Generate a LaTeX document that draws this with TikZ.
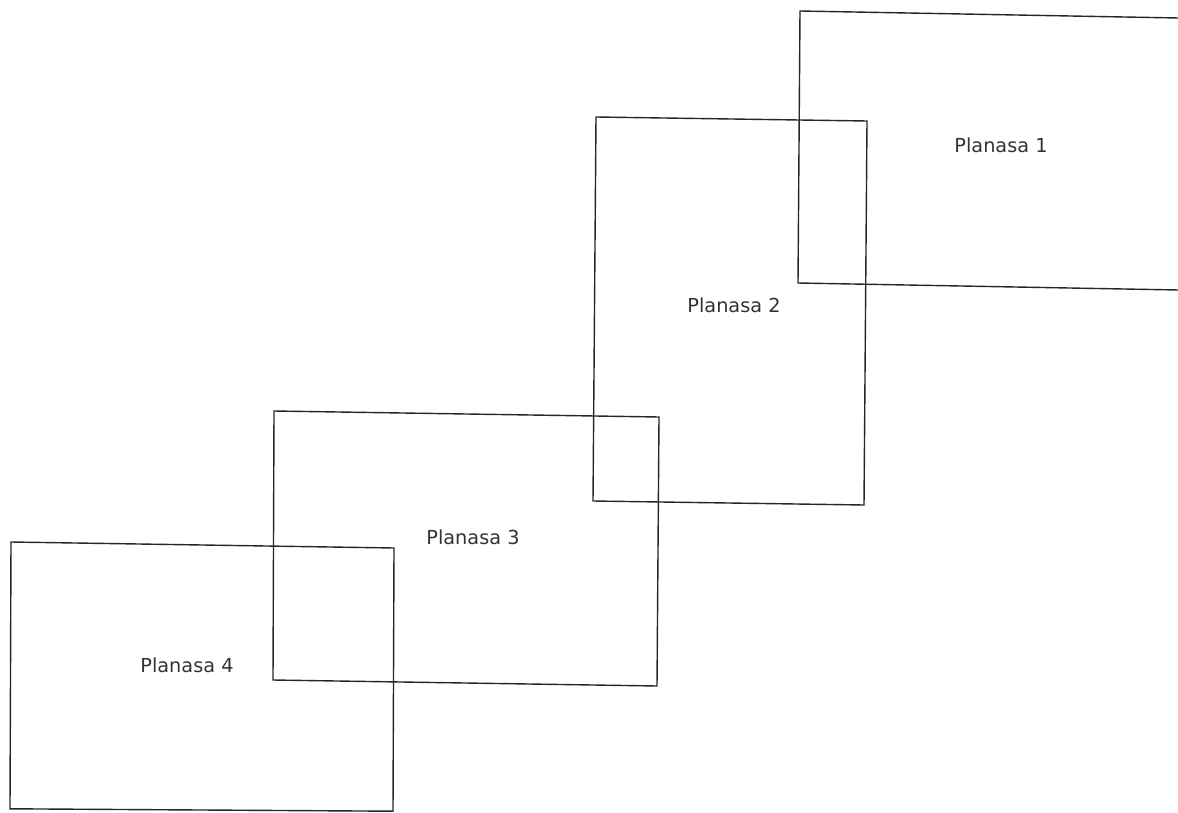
\documentclass[tikz,border=0pt]{standalone}
\usepackage{fontspec}
\setmainfont{DejaVu Sans}
\begin{document}
\begin{tikzpicture}[x=1pt,y=-1pt,
  plan/.style={draw=black!85,line width=1.4pt,line join=miter},
  lbl/.style={anchor=base,inner sep=0pt,text=black!80,font=\fontsize{19.3}{22}\selectfont}]
\useasboundingbox (0,0) rectangle (1178,813);
\clip (0,0) rectangle (1178,813);
% corners of the sheets
\coordinate (a1) at (800,11);  \coordinate (b1) at (1200,18.4);
\coordinate (c1) at (1200,290.4); \coordinate (d1) at (798,283);
\coordinate (a2) at (596,117); \coordinate (b2) at (867,121);
\coordinate (c2) at (864,505); \coordinate (d2) at (593,501);
\coordinate (a3) at (274,411); \coordinate (b3) at (659,417);
\coordinate (c3) at (657,686); \coordinate (d3) at (273,680);
\coordinate (a4) at (11,542);  \coordinate (b4) at (394,548);
\coordinate (c4) at (393,811.2); \coordinate (d4) at (10,808.8);
\draw[plan] (a1) -- (b1) -- (c1) -- (d1) -- cycle;
\draw[plan] (a2) -- (b2) -- (c2) -- (d2) -- cycle;
\draw[plan] (a3) -- (b3) -- (c3) -- (d3) -- cycle;
\draw[plan] (a4) -- (b4) -- (c4) -- (d4) -- cycle;
\node[lbl] (p1) at (1001,153) {Planasa 1};
\node[lbl] (p2) at (734,312) {Planasa 2};
\node[lbl] (p3) at (473,544) {Planasa 3};
\node[lbl] (p4) at (187,672) {Planasa 4};
\end{tikzpicture}
\end{document}
